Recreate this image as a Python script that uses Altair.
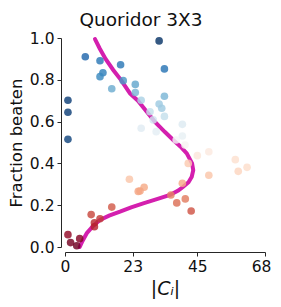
import altair as alt
import pandas as pd

# scatter points: |C_i| , fraction beaten, colour shade (0 = dark red, 1 = dark blue)
px = [6.9, 11.9, 18.9, 12.9, 11.9, 19.8, 23.9, 15.9, 23.9, 25.9, 1.0, 1.0, 28.9, 30.0,
      25.9, 31.0, 32.0, 1.0, 32.0, 33.8, 33.8, 32.9, 33.8, 39.9, 39.9, 37.8, 40.8, 45.0,
      48.9, 57.9, 61.9, 58.9, 41.9, 48.9, 39.9, 26.9, 25.5, 36.0, 40.9, 38.0, 42.9, 21.9,
      24.9, 15.9, 8.9, 11.9, 10.0, 10.0, 1.0, 5.0, 1.9, 4.0]
py = [0.910, 0.891, 0.872, 0.834, 0.815, 0.796, 0.778, 0.757, 0.739, 0.702, 0.702, 0.645,
      0.647, 0.608, 0.568, 0.552, 0.684, 0.515, 0.986, 0.852, 0.721, 0.664, 0.625, 0.587,
      0.531, 0.512, 0.488, 0.437, 0.456, 0.418, 0.381, 0.362, 0.400, 0.343, 0.305, 0.286,
      0.268, 0.249, 0.230, 0.211, 0.172, 0.324, 0.266, 0.191, 0.155, 0.135, 0.116, 0.097,
      0.059, 0.040, 0.021, 0.006]
shade = [0.90, 0.86, 0.86, 0.84, 0.82, 0.79, 0.76, 0.75, 0.73, 0.66, 0.97, 0.97, 0.62, 0.60,
         0.56, 0.55, 0.68, 0.96, 0.99, 0.87, 0.73, 0.68, 0.62, 0.57, 0.54, 0.51, 0.49, 0.44,
         0.45, 0.42, 0.41, 0.39, 0.37, 0.36, 0.31, 0.31, 0.30, 0.25, 0.24, 0.22, 0.18, 0.36,
         0.30, 0.19, 0.16, 0.14, 0.12, 0.11, 0.06, 0.04, 0.02, 0.01]

# fitted curve
cy = [0.0, 0.03, 0.066, 0.1, 0.129, 0.15, 0.169, 0.19, 0.209, 0.23, 0.249, 0.27, 0.288,
      0.31, 0.336, 0.368, 0.40, 0.448, 0.48, 0.512, 0.55, 0.60, 0.647, 0.70, 0.735, 0.80,
      0.847, 0.90, 0.95, 0.995]
cx = [5.0, 6.0, 7.4, 9.5, 11.9, 15.0, 18.7, 22.5, 26.6, 31.5, 35.7, 38.5, 40.2, 42.0,
      43.1, 43.6, 43.2, 41.4, 39.3, 36.8, 34.0, 30.5, 27.8, 24.8, 22.1, 19.0, 16.4, 13.8,
      11.8, 10.2]

xticks = [0, 23, 45, 68]
yticks = [0.0, 0.2, 0.4, 0.6, 0.8, 1.0]

rdbu = ["#67001f", "#b2182b", "#d6604d", "#f4a582", "#fddbc7", "#f7f7f7",
        "#d1e5f0", "#92c5de", "#4393c3", "#2166ac", "#053061"]

pts = pd.DataFrame({"x": px, "y": py, "s": shade})
cur = pd.DataFrame({"x": cx, "y": cy, "o": list(range(len(cx)))})

F = "DejaVu Sans"
xs = alt.Scale(domain=[0, 68], nice=False, zero=False)
ys = alt.Scale(domain=[0, 1], nice=False)

xaxis = alt.Axis(values=xticks, title="|Cᵢ|", offset=5, grid=False, tickSize=4,
                 labelFontSize=15.5, titleFontSize=19, titleFontStyle="italic",
                 titleFontWeight="normal", labelFont=F, titleFont=F, labelPadding=3,
                 titlePadding=5, domainColor="#262626", tickColor="#262626",
                 labelColor="#111", titleColor="#111", labelFlush=False,
                 labelOffset={"condition": {"test": "datum.value == 68", "value": -4},
                              "value": 0})
yaxis = alt.Axis(values=yticks, format=".1f", title="Fraction beaten", offset=4, grid=False,
                 tickSize=4, labelFontSize=15.5, titleFontSize=16.5, titleFontWeight="normal",
                 labelFont=F, titleFont=F, labelPadding=3, titlePadding=5,
                 domainColor="#262626", tickColor="#262626", labelColor="#111",
                 titleColor="#111", labelFlush=False)

line = alt.Chart(cur).mark_line(color="#d41fae", strokeWidth=4, strokeCap="round").encode(
    x=alt.X("x:Q", scale=xs, axis=xaxis),
    y=alt.Y("y:Q", scale=ys, axis=yaxis),
    order="o:Q",
)

dots = alt.Chart(pts).mark_circle(size=58, opacity=0.82).encode(
    x=alt.X("x:Q", scale=xs),
    y=alt.Y("y:Q", scale=ys),
    color=alt.Color("s:Q", scale=alt.Scale(domain=[i / 10 for i in range(11)], range=rdbu),
                    legend=None),
)

chart = alt.layer(line, dots).properties(
    width=200, height=209,
    title=alt.TitleParams("Quoridor 3X3", fontSize=18.5, font=F, fontWeight="normal",
                          color="#111", dx=-24, offset=2),
    autosize=alt.AutoSizeParams(type="none"),
    padding={"left": 57, "top": 30, "right": 8, "bottom": 52},
).configure_view(stroke=None)

chart.save("out.html", embed_options={"renderer": "svg", "actions": False})
